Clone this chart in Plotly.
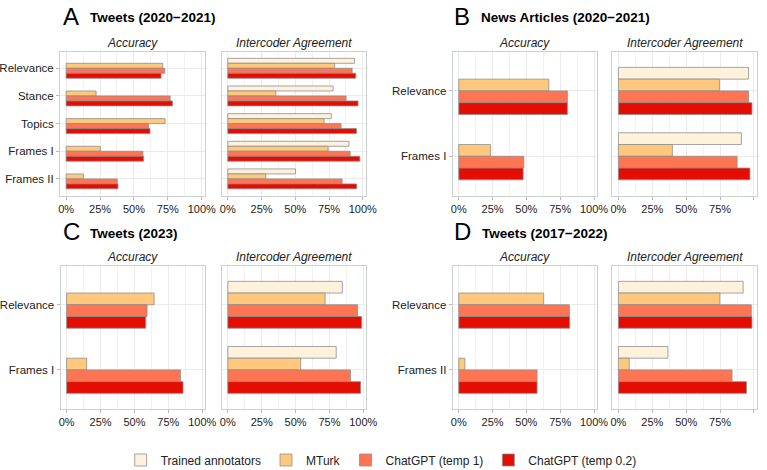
import plotly.graph_objects as go

# groups / colours
groups = ['Trained annotators', 'MTurk', 'ChatGPT (temp 1)', 'ChatGPT (temp 0.2)']
colors = ['#FFF2DD', '#FFC87C', '#FF7452', '#E40D02']

# A - Tweets (2020-2021)
a_cats = ['Relevance', 'Stance', 'Topics', 'Frames I', 'Frames II']
a_acc_mturk = [0.712, 0.221, 0.730, 0.253, 0.127]
a_acc_t1 = [0.727, 0.767, 0.608, 0.566, 0.377]
a_acc_t02 = [0.700, 0.784, 0.618, 0.571, 0.382]
a_icr_trained = [0.938, 0.780, 0.767, 0.898, 0.502]
a_icr_mturk = [0.792, 0.356, 0.713, 0.743, 0.282]
a_icr_t1 = [0.921, 0.876, 0.839, 0.906, 0.847]
a_icr_t02 = [0.948, 0.965, 0.953, 0.978, 0.955]

# B - News Articles (2020-2021)
b_cats = ['Relevance', 'Frames I']
b_acc_mturk = [0.666, 0.234]
b_acc_t1 = [0.803, 0.481]
b_acc_t02 = [0.803, 0.476]
b_icr_trained = [0.960, 0.907]
b_icr_mturk = [0.745, 0.398]
b_icr_t1 = [0.960, 0.875]
b_icr_t02 = [0.985, 0.970]

# C - Tweets (2023)
c_cats = ['Relevance', 'Frames I']
c_acc_mturk = [0.645, 0.148]
c_acc_t1 = [0.593, 0.840]
c_acc_t02 = [0.583, 0.858]
c_icr_trained = [0.845, 0.800]
c_icr_mturk = [0.718, 0.538]
c_icr_t1 = [0.958, 0.905]
c_icr_t02 = [0.988, 0.980]

# D - Tweets (2017-2022)
d_cats = ['Relevance', 'Frames II']
d_acc_mturk = [0.628, 0.045]
d_acc_t1 = [0.818, 0.579]
d_acc_t02 = [0.820, 0.579]
d_icr_trained = [0.920, 0.365]
d_icr_mturk = [0.748, 0.080]
d_icr_t1 = [0.980, 0.838]
d_icr_t02 = [0.985, 0.945]

ticks = [0, 0.25, 0.5, 0.75, 1]
tick_text = ['0%', '25%', '50%', '75%', '100%']

W, H = 767, 470
FONT = 'Liberation Sans, Arial, sans-serif'

# (cats, [trained, mturk, t1, t02], x px, y px)
panels = [
    (a_cats, [None, a_acc_mturk, a_acc_t1, a_acc_t02], (60, 204.5), (51.7, 195.5)),
    (a_cats, [a_icr_trained, a_icr_mturk, a_icr_t1, a_icr_t02], (221.7, 365.5), (51.7, 195.5)),
    (b_cats, [None, b_acc_mturk, b_acc_t1, b_acc_t02], (452.7, 596.7), (51.7, 195.5)),
    (b_cats, [b_icr_trained, b_icr_mturk, b_icr_t1, b_icr_t02], (612.3, 756.7), (51.7, 195.5)),
    (c_cats, [None, c_acc_mturk, c_acc_t1, c_acc_t02], (60.5, 205), (265.7, 409)),
    (c_cats, [c_icr_trained, c_icr_mturk, c_icr_t1, c_icr_t02], (221.7, 366), (265.7, 409)),
    (d_cats, [None, d_acc_mturk, d_acc_t1, d_acc_t02], (452.7, 596.7), (265.7, 409)),
    (d_cats, [d_icr_trained, d_icr_mturk, d_icr_t1, d_icr_t02], (612.3, 756.7), (265.7, 409)),
]

fig = go.Figure()
layout = {}
annots = []

for k, (cats, series, (x0, x1), (y0, y1)) in enumerate(panels, start=1):
    sfx = '' if k == 1 else str(k)
    for i, vals in enumerate(series):
        v = vals if vals is not None else [None] * len(cats)
        fig.add_trace(go.Bar(
            x=v, y=cats, orientation='h',
            width=0.18, offset=-0.36 + 0.18 * i,
            marker=dict(color=colors[i], line=dict(color='#8E8E8E', width=0.8)),
            name=groups[i], legendgroup=groups[i], showlegend=(k == 2),
            xaxis='x' + sfx, yaxis='y' + sfx,
        ))
    layout['xaxis' + sfx] = dict(
        domain=[x0 / W, x1 / W], anchor='y' + sfx, range=[-0.045, 1.02],
        tickvals=ticks, ticktext=tick_text, showgrid=True, gridcolor='#EBEBEB', gridwidth=1,
        minor=dict(tickvals=[0.125, 0.375, 0.625, 0.875], showgrid=True, gridcolor='#F2F2F2', gridwidth=1),
        zeroline=False, showline=True, mirror=True, linecolor='#C8D0D0', linewidth=1,
        ticks='outside', ticklen=3, tickcolor='#B8B8B8', automargin=False,
        tickfont=dict(size=11, color='#222'), fixedrange=True,
    )
    n = len(cats)
    layout['yaxis' + sfx] = dict(
        domain=[1 - y1 / H, 1 - y0 / H], anchor='x' + sfx, type='category',
        categoryorder='array', categoryarray=cats, range=[n - 1 + 0.6, -0.6],
        showgrid=True, gridcolor='#EBEBEB', zeroline=False,
        showline=True, mirror=True, linecolor='#C8D0D0', linewidth=1,
        ticks='outside' if k in (1, 3, 5, 7) else '', ticklen=3, tickcolor='#B8B8B8',
        showticklabels=k in (1, 3, 5, 7), tickfont=dict(size=11.5, color='#222'),
        automargin=False, fixedrange=True,
    )
    strip = 'Accuracy' if k % 2 == 1 else 'Intercoder Agreement'
    annots.append(dict(
        text='<i>' + strip + '</i>', x=(x0 + x1) / 2 / W, y=1 - (y0 - 9) / H,
        xref='paper', yref='paper', xanchor='center', yanchor='middle',
        showarrow=False, font=dict(size=12, color='#222'),
    ))

titles = [
    ('A', 'Tweets (2020\u22122021)', 61, 88, 16),
    ('B', 'News Articles (2020\u22122021)', 451.5, 478.5, 16),
    ('C', 'Tweets (2023)', 61, 88, 231),
    ('D', 'Tweets (2017\u22122022)', 451.5, 479.5, 231),
]
for letter, txt, lx, tx, ty in titles:
    annots.append(dict(text=letter, x=lx / W, y=1 - ty / H, xref='paper', yref='paper',
                       xanchor='left', yanchor='middle', showarrow=False,
                       font=dict(size=24, color='black')))
    annots.append(dict(text='<b>' + txt + '</b>', x=tx / W, y=1 - (ty + 2) / H,
                       xref='paper', yref='paper', xanchor='left', yanchor='middle',
                       showarrow=False, font=dict(size=13.5, color='black')))

fig.update_layout(
    **layout,
    annotations=annots,
    width=W, height=H,
    margin=dict(l=0, r=0, t=0, b=0, autoexpand=False),
    paper_bgcolor='white', plot_bgcolor='white',
    barmode='overlay',
    font=dict(family=FONT, color='#222'),
    legend=dict(orientation='h', x=0.497, xanchor='center', y=1 - 460 / H, yanchor='middle',
                font=dict(size=12, color='#222'), traceorder='normal', itemwidth=30),
)

# pin the figure to the window's corner so no page margin or scrollbar eats into it
page_js = (
    "document.documentElement.style.overflow='hidden';"
    "document.body.style.margin='0';"
    "document.body.style.overflow='hidden';"
    "var gd=document.getElementById('{plot_id}');"
    "gd.style.position='fixed';gd.style.left='0';gd.style.top='0';"
)
fig.write_html("out.html", config={'displayModeBar': False}, post_script=page_js)
